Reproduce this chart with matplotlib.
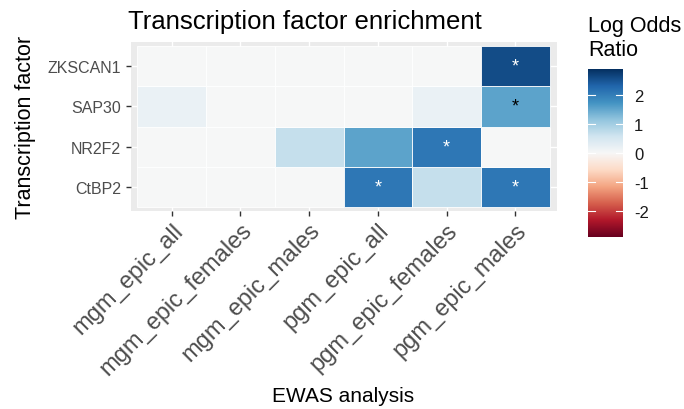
import numpy as np
import matplotlib.pyplot as plt
from matplotlib.colors import Normalize

plt.rcParams['font.family'] = ['Liberation Sans', 'DejaVu Sans']

analyses = ["mgm_epic_all", "mgm_epic_females", "mgm_epic_males",
            "pgm_epic_all", "pgm_epic_females", "pgm_epic_males"]
factors = ["CtBP2", "NR2F2", "SAP30", "ZKSCAN1"]

# log odds ratio, rows follow factors (bottom to top)
ctbp2 = [0.0, 0.0, 0.0, 2.1, 0.7, 2.1]
nr2f2 = [0.0, 0.0, 0.7, 1.55, 2.1, 0.0]
sap30 = [0.2, 0.0, 0.0, 0.0, 0.2, 1.55]
zkscan1 = [0.0, 0.0, 0.0, 0.0, 0.0, 2.6]

# significant cells: (factor, analysis, star colour)
stars = [("CtBP2", "pgm_epic_all", "white"),
         ("CtBP2", "pgm_epic_males", "white"),
         ("NR2F2", "pgm_epic_females", "white"),
         ("SAP30", "pgm_epic_males", "black"),
         ("ZKSCAN1", "pgm_epic_males", "white")]

vals = np.array([ctbp2, nr2f2, sap30, zkscan1])
lim = 2.9
norm = Normalize(-lim, lim)
cmap = plt.get_cmap("RdBu")

fig = plt.figure(figsize=(6.84, 4.10), dpi=100)
ax = fig.add_axes([130.5 / 684, 1 - 212 / 410, 426 / 684, 169 / 410])
ax.set_facecolor("#EBEBEB")
for i in range(len(factors)):
    for j in range(len(analyses)):
        ax.add_patch(plt.Rectangle((j - 0.5, i - 0.5), 1, 1,
                                   facecolor=cmap(norm(vals[i, j])),
                                   edgecolor="white", linewidth=0.6, zorder=2))
for f, a, c in stars:
    ax.text(analyses.index(a), factors.index(f), "*", color=c, fontsize=13,
            ha="center", va="center", zorder=3)

ax.set_xlim(-0.6, len(analyses) - 0.4)
ax.set_ylim(-0.6, len(factors) - 0.4)
ax.set_xticks(range(len(analyses)))
ax.set_xticklabels(analyses, rotation=45, ha="right", rotation_mode="anchor",
                   fontsize=17, color="#4D4D4D")
ax.set_yticks(range(len(factors)))
ax.set_yticklabels(factors, fontsize=11.5, color="#4D4D4D")
ax.grid(True, color="white", linewidth=1.0, zorder=0)
ax.set_axisbelow(True)
for s in ax.spines.values():
    s.set_visible(False)
ax.tick_params(length=3.5, color="#333333", width=1)
ax.tick_params(axis="x", pad=2)
ax.set_xlabel("EWAS analysis", fontsize=15, labelpad=5)
ax.set_ylabel("Transcription factor", fontsize=15.5, labelpad=8)
ax.set_title("Transcription factor enrichment", fontsize=18.5, loc="left",
             x=-0.005, pad=10)

cax = fig.add_axes([588 / 684, 1 - 238 / 410, 35 / 684, 168 / 410])
grad = np.linspace(-lim, lim, 256).reshape(-1, 1)
cax.imshow(grad, cmap=cmap, norm=norm, aspect="auto", origin="lower",
           extent=[0, 1, -lim, lim])
cax.set_xticks([])
cax.yaxis.tick_right()
cax.set_yticks([-2, -1, 0, 1, 2])
cax.set_yticklabels(["-2", "-1", "0", "1", "2"], fontsize=12, color="#1A1A1A")
cax.tick_params(axis="y", length=0, pad=8)
for t in [-2, -1, 0, 1, 2]:
    cax.plot([0, 0.2], [t, t], color="white", linewidth=0.8)
    cax.plot([0.8, 1], [t, t], color="white", linewidth=0.8)
cax.set_xlim(0, 1)
cax.set_ylim(-lim, lim)
for s in cax.spines.values():
    s.set_visible(False)
fig.text(588 / 684, 1 - 16 / 410, "Log Odds\nRatio", fontsize=15.5,
         ha="left", va="top", linespacing=1.2)

fig.savefig("out.png", dpi=100)
